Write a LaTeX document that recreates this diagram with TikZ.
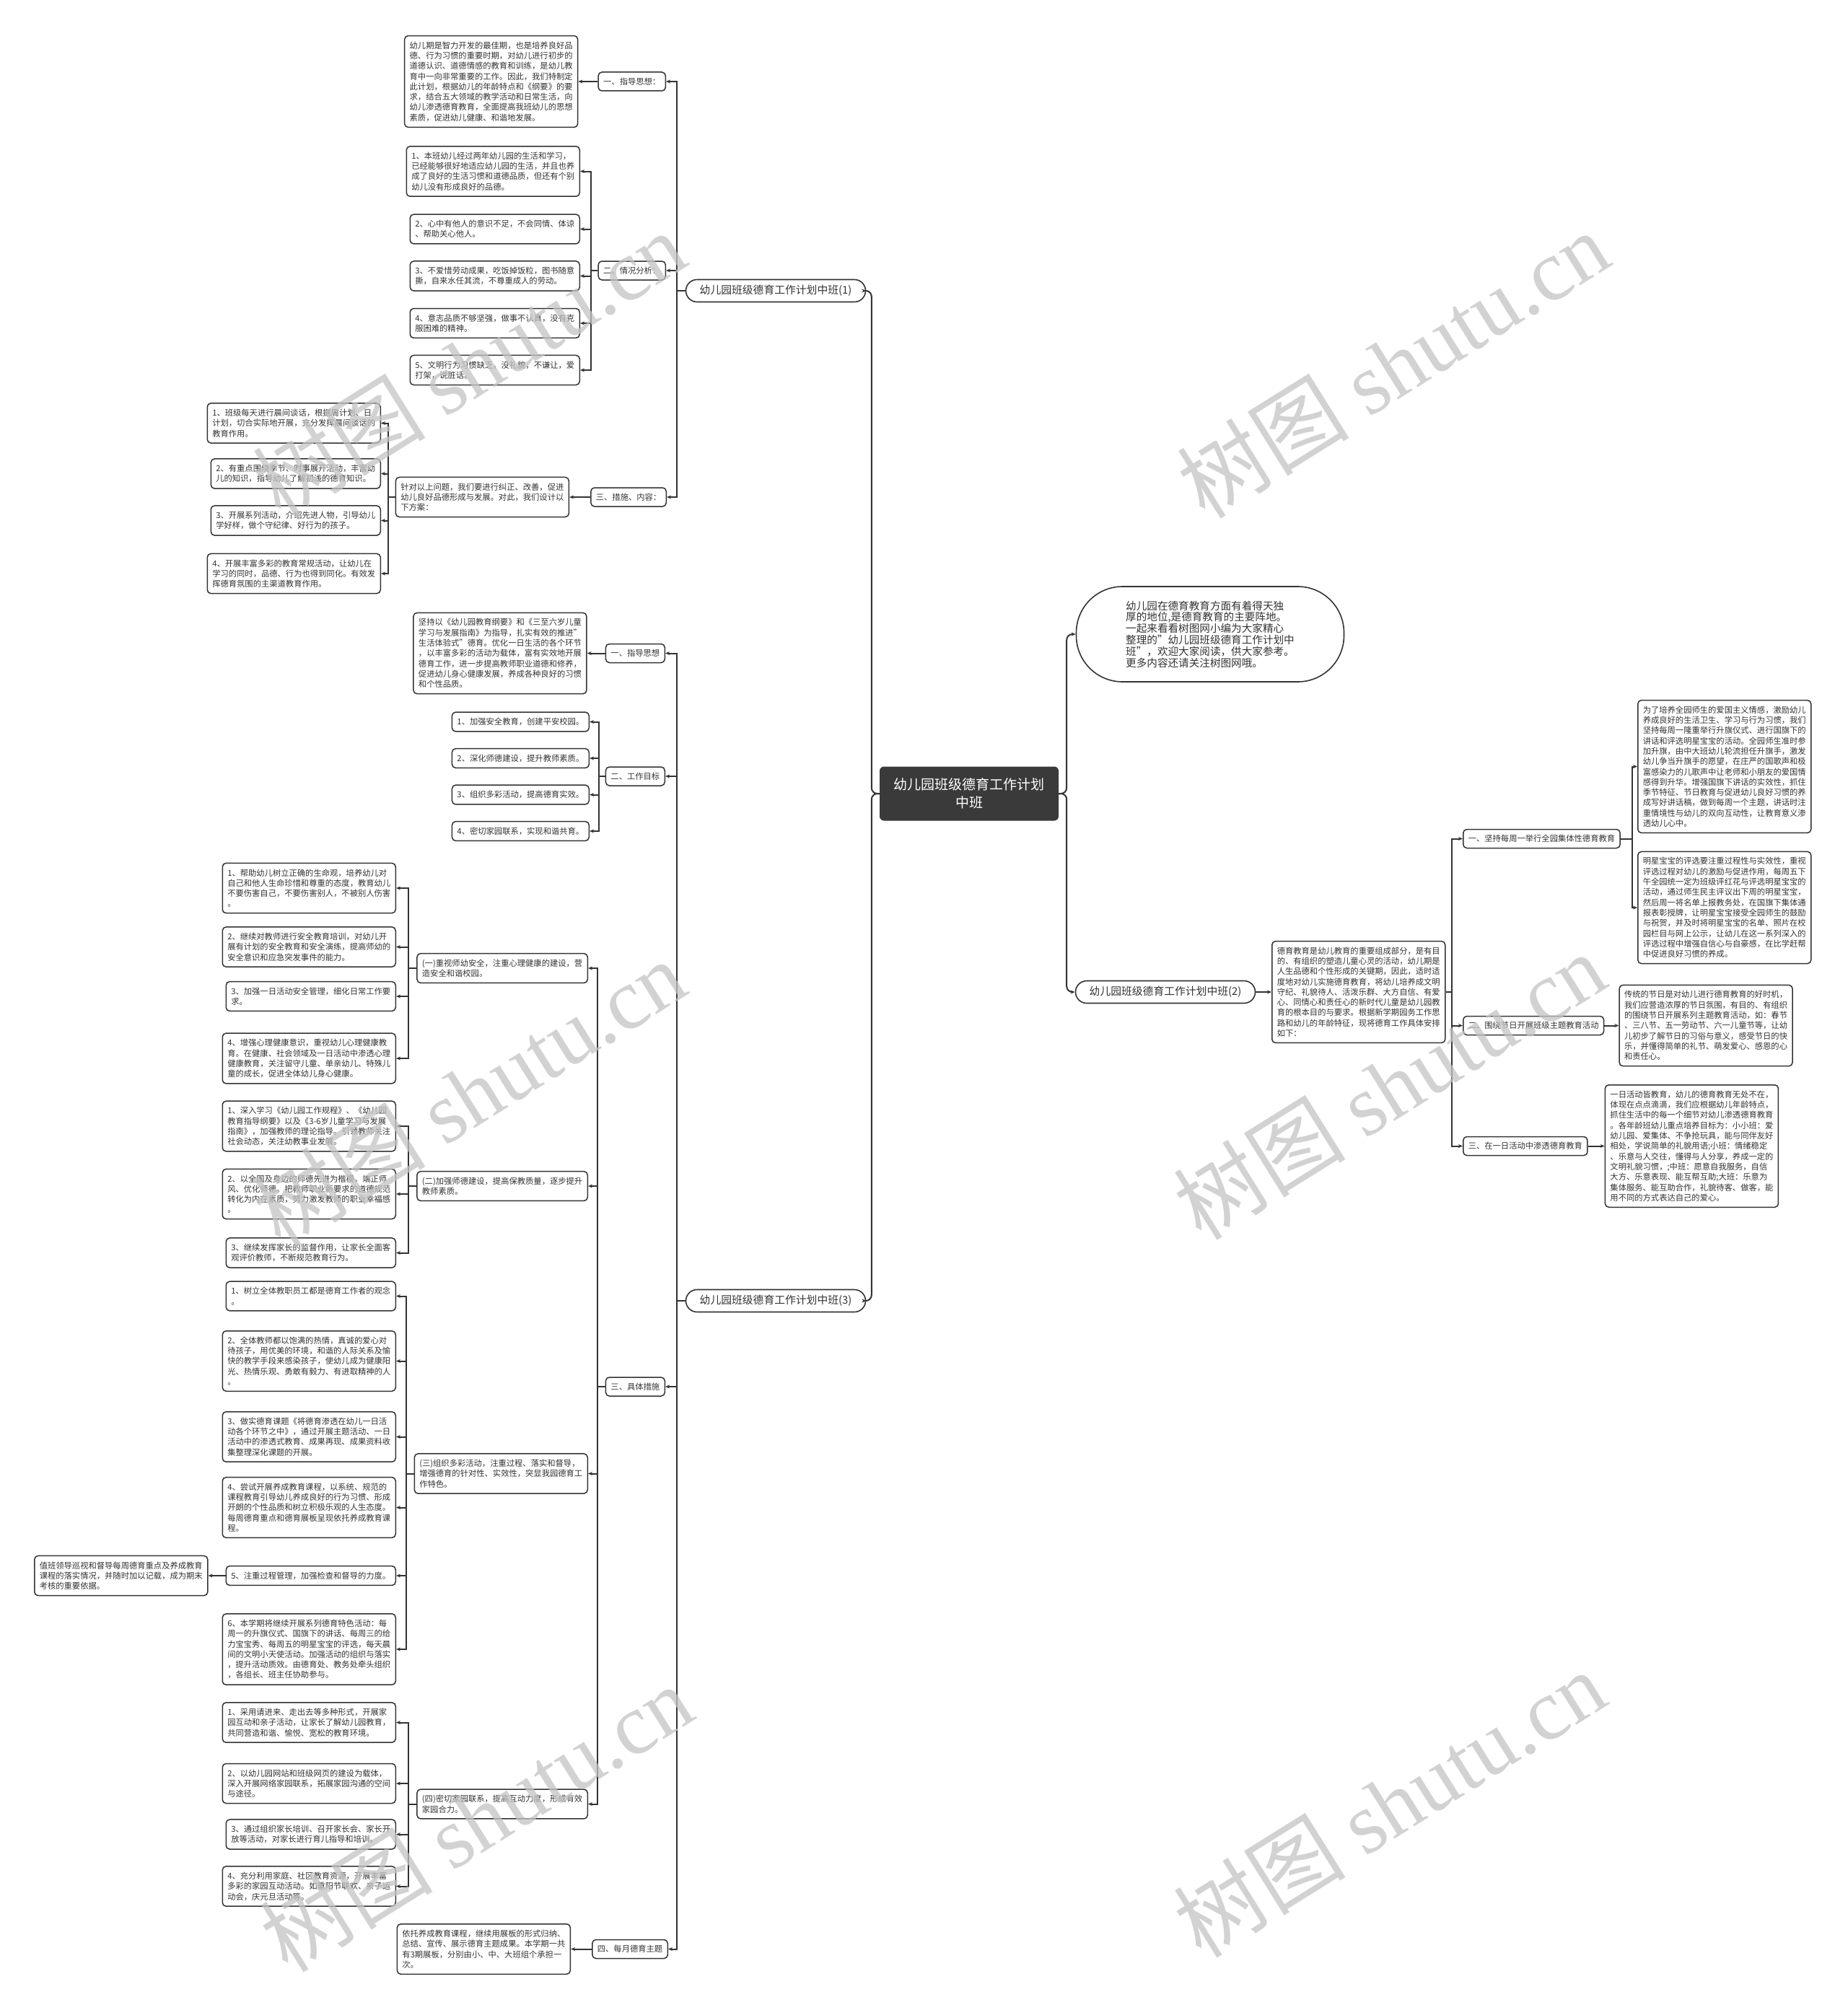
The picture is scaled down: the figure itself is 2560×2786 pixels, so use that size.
\documentclass[tikz,border=0pt]{standalone}
\usepackage{fontspec}
\setmainfont{Noto Sans CJK SC}
\newfontfamily\wmlatin{Liberation Serif}
\usetikzlibrary{positioning,arrows.meta}

\definecolor{linec}{HTML}{333333}
\definecolor{textc}{HTML}{333333}
\definecolor{rootc}{HTML}{3A3A3A}
\definecolor{wmc}{HTML}{C4C4C4}

\newcommand\leaffont{\fontsize{11.3pt}{14.3pt}\selectfont}
\newcommand\branchfont{\fontsize{14.8pt}{16pt}\selectfont}
\newcommand\introfont{\fontsize{14.6pt}{15.8pt}\selectfont}
\newcommand\rootfont{\fontsize{19pt}{25pt}\selectfont}
\newcommand\wmfont{\fontsize{120pt}{120pt}\selectfont}

\begin{document}
\begin{tikzpicture}[
  x=1pt, y=-1pt,
  box/.style={
    draw=linec,
    line width=1.5pt,
    rounded corners=5pt,
    fill=white,
    text=textc,
    align=left,
    inner xsep=7pt,
    inner ysep=8pt,
    font=\leaffont
  },
  leafl/.style={box, anchor=east},
  leafr/.style={box, anchor=west},
  tag/.style={box, inner ysep=6pt, minimum height=26pt},
  branch/.style={
    draw=linec,
    line width=1.6pt,
    rounded corners=15.5pt,
    fill=white,
    text=textc,
    minimum width=249pt,
    minimum height=31pt,
    font=\branchfont
  },
  root/.style={
    fill=rootc,
    rounded corners=6pt,
    text=white,
    align=center,
    minimum width=248pt,
    minimum height=75pt,
    font=\rootfont
  },
  conn/.style={draw=linec, line width=2pt, -{Stealth[length=6pt,width=5pt]}},
  trunk/.style={conn, rounded corners=8pt},
  wm/.style={text=wmc, text opacity=0.75, rotate=32, font=\wmfont}
]

\fill[white] (0,0) rectangle (2560,2786);
\useasboundingbox (0,0) rectangle (2560,2786);

% Nodes
\node[root] (root) at (1343,1100) {幼儿园班级德育工作计划\\中班};
\node[branch] (p1) at (1075,403) {幼儿园班级德育工作计划中班(1)};
\node[branch] (p3) at (1075,1803) {幼儿园班级德育工作计划中班(3)};
\node[branch] (p2) at (1615,1375) {幼儿园班级德育工作计划中班(2)};
\node[draw=linec, line width=1.6pt, rounded corners=64pt, fill=white, text=textc,
  align=left, minimum width=371pt, minimum height=132pt, font=\introfont] (intro) at (1677,879)
  {幼儿园在德育教育方面有着得天独\\厚的地位,是德育教育的主要阵地。\\一起来看看树图网小编为大家精心\\整理的"幼儿园班级德育工作计划中\\班"，欢迎大家阅读，供大家参考。\\更多内容还请关注树图网哦。};

% (1)
\node[tag, anchor=east] (p1a) at (923,113) {一、指导思想：};
\node[box, left=27pt of p1a] (p1a1) {幼儿期是智力开发的最佳期，也是培养良好品\\德、行为习惯的重要时期，对幼儿进行初步的\\道德认识、道德情感的教育和训练，是幼儿教\\育中一向非常重要的工作。因此，我们特制定\\此计划，根据幼儿的年龄特点和《纲要》的要\\求，结合五大领域的教学活动和日常生活，向\\幼儿渗透德育教育，全面提高我班幼儿的思想\\素质，促进幼儿健康、和谐地发展。};

\node[tag, anchor=east] (p1b) at (923,375) {二、情况分析：};
\node[leafl] (p1b1) at (804,237.5) {1、本班幼儿经过两年幼儿园的生活和学习，\\已经能够很好地适应幼儿园的生活，并且也养\\成了良好的生活习惯和道德品质，但还有个别\\幼儿没有形成良好的品德。};
\node[leafl] (p1b2) at (804,317.5) {2、心中有他人的意识不足，不会同情、体谅\\、帮助关心他人。};
\node[leafl] (p1b3) at (804,382.5) {3、不爱惜劳动成果，吃饭掉饭粒，图书随意\\撕，自来水任其流，不尊重成人的劳动。};
\node[leafl] (p1b4) at (804,448) {4、意志品质不够坚强，做事不认真，没有克\\服困难的精神。};
\node[leafl] (p1b5) at (804,513) {5、文明行为习惯缺乏，没礼貌，不谦让，爱\\打架，说脏话。};

\node[tag, anchor=east] (p1c) at (924,689) {三、措施、内容：};
\node[box, left=29pt of p1c] (p1c0) {针对以上问题，我们要进行纠正、改善，促进\\幼儿良好品德形成与发展。对此，我们设计以\\下方案：};
\node[leafl] (p1c1) at (528,586.5) {1、班级每天进行晨间谈话，根据周计划、日\\计划，切合实际地开展，充分发挥晨间谈话的\\教育作用。};
\node[leafl] (p1c2) at (528,656.5) {2、有重点围绕季节、时事展开活动，丰富幼\\儿的知识，指导幼儿了解初浅的德育知识。};
\node[leafl] (p1c3) at (528,721.5) {3、开展系列活动，介绍先进人物，引导幼儿\\学好样，做个守纪律、好行为的孩子。};
\node[leafl] (p1c4) at (528,795) {4、开展丰富多彩的教育常规活动，让幼儿在\\学习的同时，品德、行为也得到同化。有效发\\挥德育氛围的主渠道教育作用。};

% (3)
\node[tag, anchor=east] (p3a) at (922,905.5) {一、指导思想};
\node[box, left=25pt of p3a] (p3a1) {坚持以《幼儿园教育纲要》和《三至六岁儿童\\学习与发展指南》为指导，扎实有效的推进"\\生活体验式"德育。优化一日生活的各个环节\\，以丰富多彩的活动为载体，富有实效地开展\\德育工作，进一步提高教师职业道德和修养，\\促进幼儿身心健康发展，养成各种良好的习惯\\和个性品质。};

\node[tag, anchor=east] (p3b) at (922,1076) {二、工作目标};
\node[leafl] (p3b1) at (817,1000.5) {1、加强安全教育，创建平安校园。};
\node[leafl] (p3b2) at (817,1051) {2、深化师德建设，提升教师素质。};
\node[leafl] (p3b3) at (817,1101.5) {3、组织多彩活动，提高德育实效。};
\node[leafl] (p3b4) at (817,1152) {4、密切家园联系，实现和谐共育。};

\node[tag, anchor=east] (p3c) at (922,1922) {三、具体措施};
\node[leafl] (s1) at (815,1342) {(一)重视师幼安全，注重心理健康的建设，营\\造安全和谐校园。};
\node[leafl] (s2) at (815,1644) {(二)加强师德建设，提高保教质量，逐步提升\\教师素质。};
\node[leafl] (s3) at (815,2042.5) {(三)组织多彩活动，注重过程、落实和督导，\\增强德育的针对性、实效性，突显我园德育工\\作特色。};
\node[leafl] (s4) at (815,2500.5) {(四)密切家园联系，提高互动力度，形成有效\\家园合力。};

\node[leafl] (s1a) at (549,1231) {1、帮助幼儿树立正确的生命观，培养幼儿对\\自己和他人生命珍惜和尊重的态度，教育幼儿\\不要伤害自己，不要伤害别人，不被别人伤害\\。};
\node[leafl] (s1b) at (549,1312.5) {2、继续对教师进行安全教育培训，对幼儿开\\展有计划的安全教育和安全演练，提高师幼的\\安全意识和应急突发事件的能力。};
\node[leafl] (s1c) at (549,1381) {3、加强一日活动安全管理，细化日常工作要\\求。};
\node[leafl] (s1d) at (549,1467) {4、增强心理健康意识，重视幼儿心理健康教\\育。在健康、社会领域及一日活动中渗透心理\\健康教育，关注留守儿童、单亲幼儿、特殊儿\\童的成长，促进全体幼儿身心健康。};

\node[leafl] (s2a) at (549,1561) {1、深入学习《幼儿园工作规程》、《幼儿园\\教育指导纲要》以及《3-6岁儿童学习与发展\\指南》，加强教师的理论指导。引领教师关注\\社会动态，关注幼教事业发展。};
\node[leafl] (s2b) at (549,1655) {2、以全国及身边的师德先进为楷模，端正师\\风、优化师德。把教师职业新要求的道德规范\\转化为内在素质，努力激发教师的职业幸福感\\。};
\node[leafl] (s2c) at (549,1736.5) {3、继续发挥家长的监督作用，让家长全面客\\观评价教师，不断规范教育行为。};

\node[leafl] (s3a) at (549,1796.5) {1、树立全体教职员工都是德育工作者的观念\\。};
\node[leafl] (s3b) at (549,1886.5) {2、全体教师都以饱满的热情，真诚的爱心对\\待孩子，用优美的环境，和谐的人际关系及愉\\快的教学手段来感染孩子，使幼儿成为健康阳\\光、热情乐观、勇敢有毅力、有进取精神的人\\。};
\node[leafl] (s3c) at (549,1991.5) {3、做实德育课题《将德育渗透在幼儿一日活\\动各个环节之中》，通过开展主题活动、一日\\活动中的渗透式教育、成果再现、成果资料收\\集整理深化课题的开展。};
\node[leafl] (s3d) at (549,2089.5) {4、尝试开展养成教育课程，以系统、规范的\\课程教育引导幼儿养成良好的行为习惯、形成\\开朗的个性品质和树立积极乐观的人生态度。\\每周德育重点和德育展板呈现依托养成教育课\\程。};
\node[leafl] (s3e) at (549,2184) {5、注重过程管理，加强检查和督导的力度。};
\node[box, left=24pt of s3e] (s3e1) {值班领导巡视和督导每周德育重点及养成教育\\课程的落实情况，并随时加以记载，成为期末\\考核的重要依据。};
\node[leafl] (s3f) at (549,2286) {6、本学期将继续开展系列德育特色活动：每\\周一的升旗仪式、国旗下的讲话、每周三的给\\力宝宝秀、每周五的明星宝宝的评选，每天晨\\间的文明小天使活动。加强活动的组织与落实\\，提升活动质效。由德育处、教务处牵头组织\\，各组长、班主任协助参与。};

\node[leafl] (s4a) at (549,2387.5) {1、采用请进来、走出去等多种形式，开展家\\园互动和亲子活动，让家长了解幼儿园教育，\\共同营造和谐、愉悦、宽松的教育环境。};
\node[leafl] (s4b) at (549,2472) {2、以幼儿园网站和班级网页的建设为载体，\\深入开展网络家园联系，拓展家园沟通的空间\\与途径。};
\node[leafl] (s4c) at (549,2542.5) {3、通过组织家长培训、召开家长会、家长开\\放等活动，对家长进行育儿指导和培训。};
\node[leafl] (s4d) at (549,2614.5) {4、充分利用家庭、社区教育资源，开展丰富\\多彩的家园互动活动。如重阳节联欢、亲子运\\动会，庆元旦活动等。};

\node[tag, anchor=east] (p3d) at (926,2701.5) {四、每月德育主题};
\node[box, left=29pt of p3d] (p3d1) {依托养成教育课程，继续用展板的形式归纳、\\总结、宣传、展示德育主题成果。本学期一共\\有3期展板，分别由小、中、大班组个承担一\\次。};

% (2)
\node[leafr] (p2m) at (1762,1375) {德育教育是幼儿教育的重要组成部分，是有目\\的、有组织的塑造儿童心灵的活动，幼儿期是\\人生品德和个性形成的关键期，因此，适时适\\度地对幼儿实施德育教育，将幼儿培养成文明\\守纪、礼貌待人、活泼乐群、大方自信、有爱\\心、同情心和责任心的新时代儿童是幼儿园教\\育的根本目的与要求。根据新学期园务工作思\\路和幼儿的年龄特征，现将德育工作具体安排\\如下：};
\node[tag, anchor=west] (p2a) at (2027,1162.5) {一、坚持每周一举行全园集体性德育教育};
\node[tag, anchor=west] (p2b) at (2027,1421.5) {二、围绕节日开展班级主题教育活动};
\node[tag, anchor=west] (p2c) at (2027,1588.5) {三、在一日活动中渗透德育教育};

\node[leafr] (p2a1) at (2269,1062.5) {为了培养全园师生的爱国主义情感，激励幼儿\\养成良好的生活卫生、学习与行为习惯，我们\\坚持每周一隆重举行升旗仪式、进行国旗下的\\讲话和评选明星宝宝的活动。全园师生准时参\\加升旗，由中大班幼儿轮流担任升旗手，激发\\幼儿争当升旗手的愿望，在庄严的国歌声和极\\富感染力的儿歌声中让老师和小朋友的爱国情\\感得到升华。增强国旗下讲话的实效性，抓住\\季节特征、节日教育与促进幼儿良好习惯的养\\成写好讲话稿，做到每周一个主题，讲话时注\\重情境性与幼儿的双向互动性，让教育意义渗\\透幼儿心中。};
\node[leafr] (p2a2) at (2269,1258) {明星宝宝的评选要注重过程性与实效性，重视\\评选过程对幼儿的激励与促进作用，每周五下\\午全园统一定为班级评红花与评选明星宝宝的\\活动，通过师生民主评议出下周的明星宝宝，\\然后周一将名单上报教务处，在国旗下集体通\\报表彰授牌，让明星宝宝接受全园师生的鼓励\\与祝贺，并及时将明星宝宝的名单、照片在校\\园栏目与网上公示，让幼儿在这一系列深入的\\评选过程中增强自信心与自豪感，在比学赶帮\\中促进良好习惯的养成。};
\node[box, right=20pt of p2b] (p2b1) {传统的节日是对幼儿进行德育教育的好时机，\\我们应营造浓厚的节日氛围，有目的、有组织\\的围绕节日开展系列主题教育活动，如：春节\\、三八节、五一劳动节、六一儿童节等，让幼\\儿初步了解节日的习俗与意义，感受节日的快\\乐，并懂得简单的礼节、萌发爱心、感恩的心\\和责任心。};
\node[box, right=23pt of p2c] (p2c1) {一日活动皆教育，幼儿的德育教育无处不在，\\体现在点点滴滴，我们应根据幼儿年龄特点，\\抓住生活中的每一个细节对幼儿渗透德育教育\\。各年龄班幼儿重点培养目标为：小小班：爱\\幼儿园、爱集体、不争抢玩具，能与同伴友好\\相处，学说简单的礼貌用语;小班：情绪稳定\\、乐意与人交往，懂得与人分享，养成一定的\\文明礼貌习惯，;中班：愿意自我服务，自信\\大方、乐意表现、能互帮互助;大班：乐意为\\集体服务、能互助合作，礼貌待客、做客，能\\用不同的方式表达自己的爱心。};

% Connections from the root
\foreach \n in {p1,p3} \draw[trunk] (root.west) -- ++(-11,0) |- (\n.east);
\foreach \n in {intro,p2} \draw[trunk] (root.east) -- ++(11,0) |- (\n.west);

% (1)
\foreach \n in {p1a,p1b,p1c} \draw[conn] (p1.west) -- ++(-12,0) |- (\n.east);
\draw[conn] (p1a.west) -- (p1a1.east);
\foreach \n in {p1b1,p1b2,p1b3,p1b4,p1b5} \draw[conn] (p1b.west) -- ++(-9,0) |- (\n.east);
\draw[conn] (p1c.west) -- (p1c0.east);
\foreach \n in {p1c1,p1c2,p1c3,p1c4} \draw[conn] (p1c0.west) -- ++(-10,0) |- (\n.east);

% (3)
\foreach \n in {p3a,p3b,p3c,p3d} \draw[conn] (p3.west) -- ++(-12,0) |- (\n.east);
\draw[conn] (p3a.west) -- (p3a1.east);
\foreach \n in {p3b1,p3b2,p3b3,p3b4} \draw[conn] (p3b.west) -- ++(-9,0) |- (\n.east);
\foreach \n in {s1,s2,s3,s4} \draw[conn] (p3c.west) -- ++(-11,0) |- (\n.east);
\foreach \n in {s1a,s1b,s1c,s1d} \draw[conn] (s1.west) -- ++(-11,0) |- (\n.east);
\foreach \n in {s2a,s2b,s2c} \draw[conn] (s2.west) -- ++(-11,0) |- (\n.east);
\foreach \n in {s3a,s3b,s3c,s3d,s3e,s3f} \draw[conn] (s3.west) -- ++(-11,0) |- (\n.east);
\draw[conn] (s3e.west) -- (s3e1.east);
\foreach \n in {s4a,s4b,s4c,s4d} \draw[conn] (s4.west) -- ++(-11,0) |- (\n.east);
\draw[conn] (p3d.west) -- (p3d1.east);

% (2)
\draw[conn] (p2.east) -- (p2m.west);
\foreach \n in {p2a,p2b,p2c} \draw[conn] (p2m.east) -- ++(8,0) |- (\n.west);
\foreach \n in {p2a1,p2a2} \draw[conn] (p2a.east) -- ++(16,0) |- (\n.west);
\draw[conn] (p2b.east) -- (p2b1.west);
\draw[conn] (p2c.east) -- (p2c1.west);

% Watermarks
\foreach \x/\y in {650/505, 650/1515, 660/2520, 1930/505, 1925/1505, 1925/2500}
  \node[wm] at (\x,\y) {树图 {\wmlatin shutu.cn}};

\end{tikzpicture}
\end{document}
